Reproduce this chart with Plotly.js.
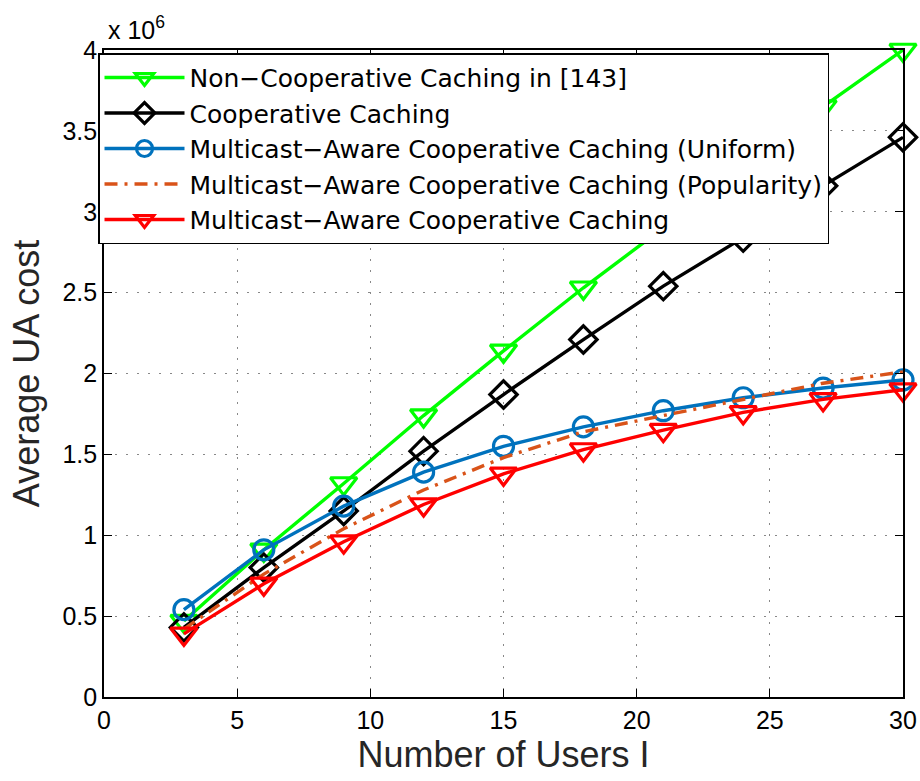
<!DOCTYPE html>
<html>
<head>
<meta charset="utf-8">
<script src="https://cdn.plot.ly/plotly-3.0.1.min.js"></script>
<style>html,body{margin:0;padding:0;background:#fff;}#chart{width:920px;height:781px;}</style>
</head>
<body>
<div id="chart"></div>
<script>
// Number of users
const users = [3, 6, 9, 12, 15, 18, 21, 24, 27, 30];
// Average UA cost, in units of 10^6
const nonCoop     = [0.47, 0.91, 1.32, 1.74, 2.14, 2.53, 2.90, 3.27, 3.65, 4.00];
const coop        = [0.43, 0.80, 1.15, 1.52, 1.87, 2.21, 2.54, 2.84, 3.16, 3.46];
const maUniform   = [0.54, 0.91, 1.18, 1.39, 1.55, 1.67, 1.77, 1.85, 1.91, 1.96];
const maPopular   = [0.42, 0.76, 1.04, 1.28, 1.48, 1.64, 1.74, 1.84, 1.94, 2.01];
const maCoop      = [0.39, 0.70, 0.96, 1.19, 1.38, 1.53, 1.65, 1.76, 1.84, 1.90];
const names = [
  'Non\u2212Cooperative Caching in [143]',
  'Cooperative Caching',
  'Multicast\u2212Aware Cooperative Caching (Uniform)',
  'Multicast\u2212Aware Cooperative Caching (Popularity)',
  'Multicast\u2212Aware Cooperative Caching'
];
const xTicks = [0, 5, 10, 15, 20, 25, 30];
const yTicks = [0, 0.5, 1, 1.5, 2, 2.5, 3, 3.5, 4];
const yTickText = ['0', '0.5', '1', '1.5', '2', '2.5', '3', '3.5', '4'];

const font = 'Liberation Sans, Arial, Helvetica, sans-serif';
const legendFont = 'DejaVu Sans, Liberation Sans, Arial, sans-serif';
function tr(y, name, color, symbol, size, dash) {
  const t = {
    x: users, y: y, name: name, type: 'scatter',
    mode: symbol ? 'lines+markers' : 'lines',
    line: {color: color, width: 3.4, dash: dash || 'solid'},
    cliponaxis: false
  };
  if (symbol) t.marker = {symbol: symbol, size: size, color: color, line: {color: color, width: 3.2}};
  return t;
}
const data = [
  tr(nonCoop, names[0], '#00FF00', 'triangle-down-open', 23),
  tr(coop, names[1], '#000000', 'diamond-open', 21),
  tr(maUniform, names[2], '#0072BD', 'circle-open', 20),
  tr(maPopular, names[3], '#D95319', null, 0, '13px,7px,3px,7px'),
  tr(maCoop, names[4], '#FF0000', 'triangle-down-open', 23)
];
const axisCommon = {
  showline: true, linecolor: '#000', linewidth: 1.8, mirror: 'ticks',
  ticks: 'inside', ticklen: 8, tickcolor: '#000', tickwidth: 1.2,
  showgrid: true, gridcolor: '#888', griddash: '2px,9px', gridwidth: 1.2,
  zeroline: false, tickfont: {family: font, size: 25, color: '#000'}
};
const layout = {
  width: 920, height: 781,
  margin: {l: 104, r: 17, t: 50, b: 84},
  paper_bgcolor: '#fff', plot_bgcolor: '#fff',
  font: {family: font},
  xaxis: Object.assign({}, axisCommon, {
    range: [0, 30], tickvals: xTicks, ticktext: xTicks.map(String),
    title: {text: 'Number of Users I', font: {family: font, size: 36, color: '#262626'}, standoff: 0}
  }),
  yaxis: Object.assign({}, axisCommon, {
    range: [0, 4], tickvals: yTicks, ticktext: yTickText,
    title: {text: 'Average UA cost', font: {family: font, size: 36, color: '#262626'}, standoff: 12}
  }),
  legend: {
    x: -0.0075, y: 0.995, xanchor: 'left', yanchor: 'top',
    bgcolor: '#fff', bordercolor: '#000', borderwidth: 1.5,
    font: {family: legendFont, size: 25, color: '#000'},
    itemwidth: 80, tracegroupgap: 0
  },
  annotations: [{
    xref: 'paper', yref: 'paper', x: 0.002, y: 1.006, xanchor: 'left', yanchor: 'bottom',
    text: 'x 10<sup>6</sup>', showarrow: false, font: {family: font, size: 25, color: '#000'}
  }],
  showlegend: true
};
Plotly.newPlot('chart', data, layout, {displayModeBar: false, staticPlot: true});
</script>
</body>
</html>
